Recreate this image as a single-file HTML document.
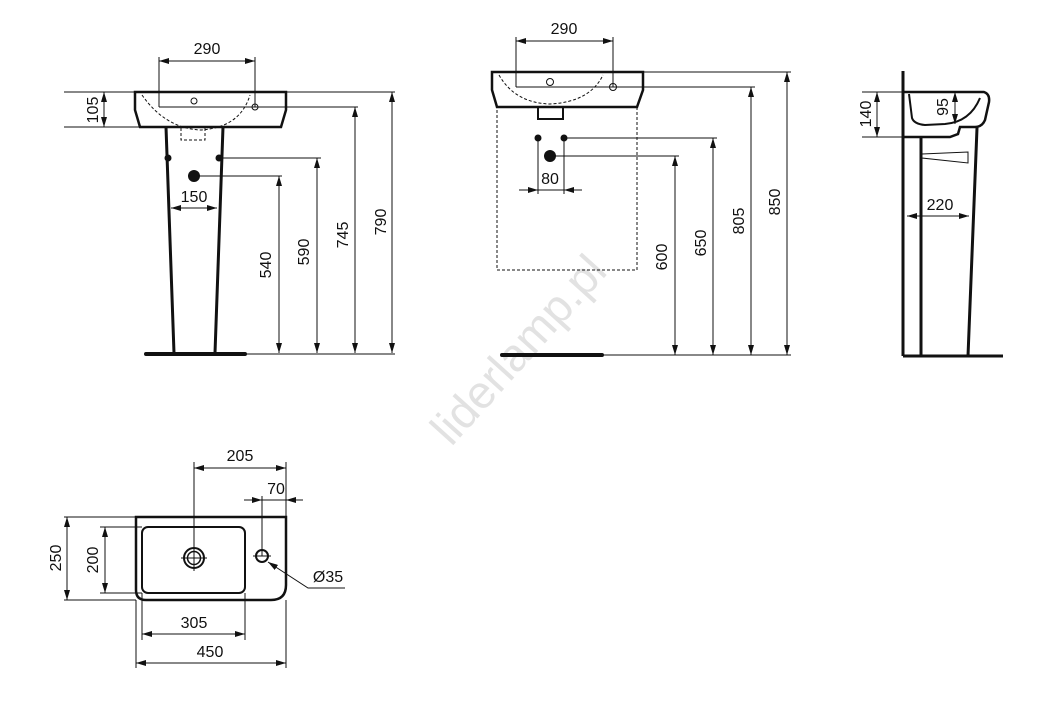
<!DOCTYPE html>
<html><head><meta charset="utf-8"><style>
html,body{margin:0;padding:0;background:#fff;}
svg{display:block;}
text{font-family:"Liberation Sans",sans-serif;font-size:16px;fill:#111;}
</style></head><body>
<svg width="1059" height="725" viewBox="0 0 1059 725" xmlns="http://www.w3.org/2000/svg">
<defs>
<marker id="a" viewBox="0 0 10 6" refX="10" refY="3" markerWidth="10" markerHeight="6" orient="auto-start-reverse" markerUnits="userSpaceOnUse"><path d="M0,0 L10,3 L0,6 z" fill="#111"/></marker>
</defs>
<text x="530" y="360" transform="rotate(-48 530 360)" text-anchor="middle" style="font-size:46px;fill:#e2e2e2">liderlamp.pl</text>
<g stroke="#111" fill="none" stroke-width="1">
<line x1="159" y1="57" x2="159" y2="107"/><line x1="255" y1="57" x2="255" y2="107"/>
<line x1="159" y1="61" x2="255" y2="61" marker-start="url(#a)" marker-end="url(#a)"/>
<path d="M135,92 L286,92 L286,110 L281,127 L140,127 L135,110 Z" stroke-width="2.5"/>
<path d="M142,95 Q165,128 200,130 Q240,128 250,95" stroke-dasharray="3,2"/>
<circle cx="194" cy="101" r="3"/><circle cx="255" cy="107" r="3"/>
<rect x="181" y="127" width="24" height="13" stroke-dasharray="3,2"/>
<line x1="159" y1="107" x2="358" y2="107"/>
<line x1="286" y1="92" x2="395" y2="92"/>
<line x1="64" y1="92" x2="135" y2="92"/><line x1="64" y1="127" x2="140" y2="127"/>
<line x1="104" y1="92" x2="104" y2="127" marker-start="url(#a)" marker-end="url(#a)"/>
<path d="M166,127 L174,353 M223,127 L215,353" stroke-width="3"/>
<line x1="219" y1="158" x2="321" y2="158"/><line x1="194" y1="176" x2="282" y2="176"/>
<line x1="171" y1="208" x2="217" y2="208" marker-start="url(#a)" marker-end="url(#a)"/>
<line x1="279" y1="176" x2="279" y2="353" marker-start="url(#a)" marker-end="url(#a)"/>
<line x1="317" y1="158" x2="317" y2="353" marker-start="url(#a)" marker-end="url(#a)"/>
<line x1="355" y1="107" x2="355" y2="353" marker-start="url(#a)" marker-end="url(#a)"/>
<line x1="392" y1="92" x2="392" y2="353" marker-start="url(#a)" marker-end="url(#a)"/>
<line x1="146" y1="354" x2="245" y2="354" stroke-width="4" stroke-linecap="round"/>
<line x1="245" y1="354" x2="395" y2="354"/>
<line x1="516" y1="37" x2="516" y2="87"/><line x1="613" y1="37" x2="613" y2="87"/>
<line x1="516" y1="41" x2="613" y2="41" marker-start="url(#a)" marker-end="url(#a)"/>
<path d="M492,72 L643,72 L643,90 L637,107 L497,107 L492,90 Z" stroke-width="2.5"/>
<path d="M499,75 Q515,103 550,104 Q590,102 603,75" stroke-dasharray="3,2"/>
<circle cx="550" cy="82" r="3.5"/><circle cx="613" cy="87" r="3.5"/>
<path d="M538,107 L538,119 L563,119 L563,107" stroke-width="2"/>
<rect x="497" y="107" width="140" height="163" stroke-dasharray="3,2"/>
<line x1="516" y1="87" x2="755" y2="87"/><line x1="643" y1="72" x2="791" y2="72"/>
<line x1="564" y1="138" x2="717" y2="138"/><line x1="550" y1="156" x2="679" y2="156"/>
<line x1="538" y1="138" x2="538" y2="194"/><line x1="564" y1="138" x2="564" y2="194"/>
<line x1="519" y1="190" x2="538" y2="190" marker-end="url(#a)"/>
<line x1="582" y1="190" x2="564" y2="190" marker-end="url(#a)"/>
<line x1="538" y1="190" x2="564" y2="190"/>
<line x1="675" y1="156" x2="675" y2="355" marker-start="url(#a)" marker-end="url(#a)"/>
<line x1="713" y1="138" x2="713" y2="355" marker-start="url(#a)" marker-end="url(#a)"/>
<line x1="751" y1="87" x2="751" y2="355" marker-start="url(#a)" marker-end="url(#a)"/>
<line x1="787" y1="72" x2="787" y2="355" marker-start="url(#a)" marker-end="url(#a)"/>
<line x1="502" y1="355" x2="602" y2="355" stroke-width="4" stroke-linecap="round"/>
<line x1="602" y1="355" x2="791" y2="355"/>
<line x1="903" y1="71" x2="903" y2="356" stroke-width="3"/>
<line x1="903" y1="356" x2="1003" y2="356" stroke-width="3"/>
<path d="M903,92 L984,92 Q990,94 989,102 L985,120 Q982,127 975,127 L960,127 L958,134 L950,137 L903,137" stroke-width="2.5"/>
<path d="M909,94 L912,118 Q914,124 925,125 L945,124 Q970,122 980,98" stroke-width="2"/>
<path d="M921,137 L921,356 M977,128 L968,356" stroke-width="3"/>
<path d="M922,154 L968,152 L968,163 L922,158 Z"/>
<line x1="862" y1="92" x2="903" y2="92"/><line x1="862" y1="137" x2="903" y2="137"/>
<line x1="877" y1="92" x2="877" y2="137" marker-start="url(#a)" marker-end="url(#a)"/>
<line x1="955" y1="92" x2="955" y2="124" marker-start="url(#a)" marker-end="url(#a)"/>
<line x1="907" y1="216" x2="969" y2="216" marker-start="url(#a)" marker-end="url(#a)"/>
<path d="M136,517 L286,517 L286,585 Q286,600 271,600 L146,600 Q136,600 136,590 Z" stroke-width="2.5"/>
<rect x="142" y="527" width="103" height="66" rx="6" stroke-width="2"/>
<circle cx="194" cy="558" r="10" stroke-width="2"/><circle cx="194" cy="558" r="6.5" stroke-width="1.5"/>
<line x1="181" y1="558" x2="207" y2="558"/><line x1="194" y1="545" x2="194" y2="571"/>
<circle cx="262" cy="556" r="6" stroke-width="2"/><line x1="253" y1="556" x2="271" y2="556"/>
<line x1="194" y1="462" x2="194" y2="558"/><line x1="286" y1="462" x2="286" y2="517"/>
<line x1="194" y1="468" x2="286" y2="468" marker-start="url(#a)" marker-end="url(#a)"/>
<line x1="262" y1="496" x2="262" y2="556"/>
<line x1="244" y1="500" x2="262" y2="500" marker-end="url(#a)"/>
<line x1="303" y1="500" x2="286" y2="500" marker-end="url(#a)"/>
<line x1="262" y1="500" x2="286" y2="500"/>
<line x1="64" y1="517" x2="136" y2="517"/><line x1="64" y1="600" x2="136" y2="600"/>
<line x1="67" y1="517" x2="67" y2="600" marker-start="url(#a)" marker-end="url(#a)"/>
<line x1="100" y1="527" x2="142" y2="527"/><line x1="100" y1="593" x2="142" y2="593"/>
<line x1="105" y1="527" x2="105" y2="593" marker-start="url(#a)" marker-end="url(#a)"/>
<line x1="142" y1="593" x2="142" y2="640"/><line x1="245" y1="593" x2="245" y2="640"/>
<line x1="142" y1="634" x2="245" y2="634" marker-start="url(#a)" marker-end="url(#a)"/>
<line x1="136" y1="600" x2="136" y2="668"/><line x1="286" y1="600" x2="286" y2="668"/>
<line x1="136" y1="663" x2="286" y2="663" marker-start="url(#a)" marker-end="url(#a)"/>
<polyline points="345,588 308,588 268,562" marker-end="url(#a)"/>
</g>
<g fill="#111">
<circle cx="168" cy="158" r="3.5"/><circle cx="219" cy="158" r="3.5"/><circle cx="194" cy="176" r="6"/>
<circle cx="538" cy="138" r="3.5"/><circle cx="564" cy="138" r="3.5"/><circle cx="550" cy="156" r="6"/>
</g>
<text x="207" y="54" text-anchor="middle">290</text>
<text x="194" y="202" text-anchor="middle">150</text>
<text transform="translate(98,110) rotate(-90)" text-anchor="middle">105</text>
<text transform="translate(271,265) rotate(-90)" text-anchor="middle">540</text>
<text transform="translate(309,252) rotate(-90)" text-anchor="middle">590</text>
<text transform="translate(348,235) rotate(-90)" text-anchor="middle">745</text>
<text transform="translate(386,222) rotate(-90)" text-anchor="middle">790</text>
<text x="564" y="34" text-anchor="middle">290</text>
<text x="550" y="184" text-anchor="middle">80</text>
<text transform="translate(667,257) rotate(-90)" text-anchor="middle">600</text>
<text transform="translate(706,243) rotate(-90)" text-anchor="middle">650</text>
<text transform="translate(744,221) rotate(-90)" text-anchor="middle">805</text>
<text transform="translate(780,202) rotate(-90)" text-anchor="middle">850</text>
<text transform="translate(871,114) rotate(-90)" text-anchor="middle">140</text>
<text transform="translate(948,107) rotate(-90)" text-anchor="middle">95</text>
<text x="940" y="210" text-anchor="middle">220</text>
<text x="240" y="461" text-anchor="middle">205</text>
<text x="276" y="494" text-anchor="middle">70</text>
<text transform="translate(61,558) rotate(-90)" text-anchor="middle">250</text>
<text transform="translate(98,560) rotate(-90)" text-anchor="middle">200</text>
<text x="194" y="628" text-anchor="middle">305</text>
<text x="210" y="657" text-anchor="middle">450</text>
<text x="328" y="582" text-anchor="middle">Ø35</text>
</svg>
</body></html>
